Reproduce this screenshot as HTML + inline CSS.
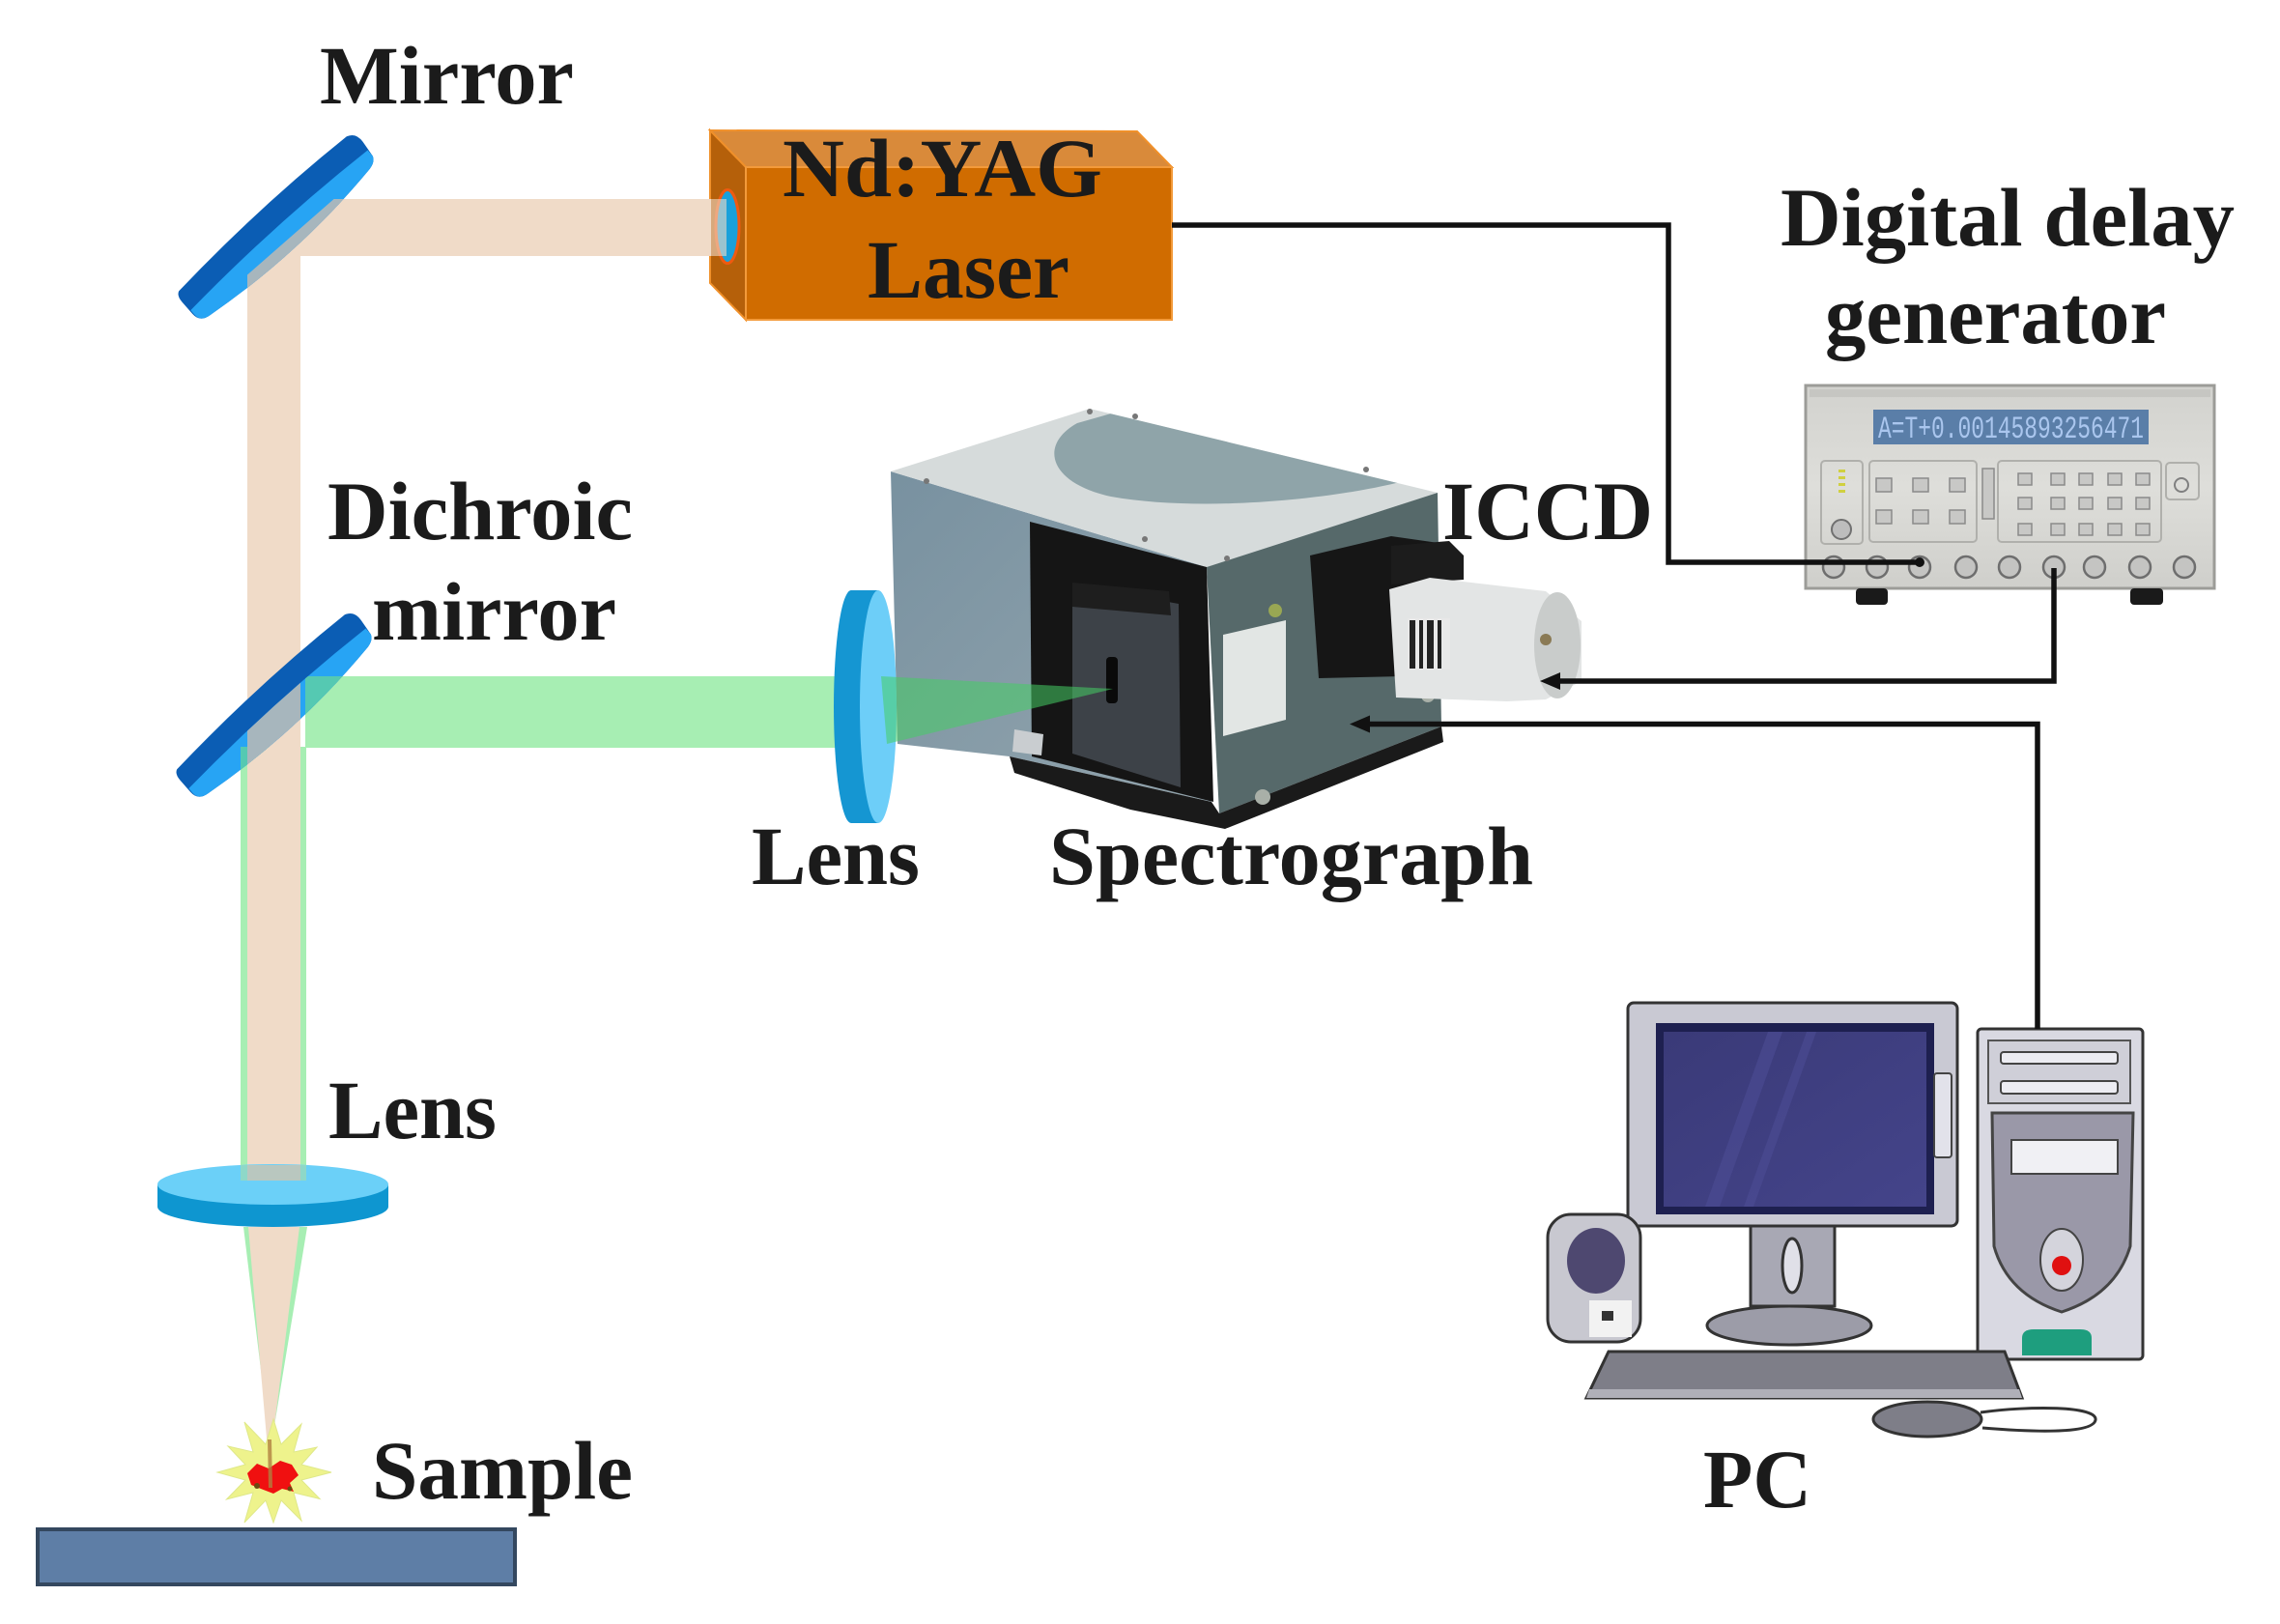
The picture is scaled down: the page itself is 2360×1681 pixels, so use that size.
<!DOCTYPE html>
<html><head><meta charset="utf-8"><style>
html,body{margin:0;padding:0;background:#fff;}
svg{display:block;}
.t{font-family:"Liberation Serif","Times New Roman",serif;font-weight:bold;font-size:86px;fill:#1b1b1b;}
</style></head><body>
<svg width="2360" height="1681" viewBox="0 0 2360 1681" xmlns="http://www.w3.org/2000/svg">
<defs>
  <clipPath id="face1"><path transform="translate(288,236.5) rotate(-41.2)" d="M -124,4 Q 0,-6 123,0 L 123,8 Q 121,14 112,16 Q 0,34 -112,21 Q -124,20 -124,10 Z"/></clipPath>
  <clipPath id="face2"><path transform="translate(286,731.5) rotate(-41.2)" d="M -124,4 Q 0,-6 123,0 L 123,8 Q 121,14 112,16 Q 0,34 -112,21 Q -124,20 -124,10 Z"/></clipPath>
  <clipPath id="topface"><polygon points="922,488 1128,423 1488,510 1249,587"/></clipPath>
  <linearGradient id="lface" x1="0" y1="0" x2="1" y2="1">
    <stop offset="0" stop-color="#7891a0"/><stop offset="1" stop-color="#93a5ae"/>
  </linearGradient>
  <linearGradient id="ddg" x1="0" y1="0" x2="0" y2="1">
    <stop offset="0" stop-color="#d2d2ce"/><stop offset="0.5" stop-color="#dededa"/><stop offset="1" stop-color="#cfcfcb"/>
  </linearGradient>
  <linearGradient id="scr" x1="0" y1="0" x2="1" y2="1">
    <stop offset="0" stop-color="#3a3a78"/><stop offset="1" stop-color="#44448a"/>
  </linearGradient>
</defs>
<rect width="2360" height="1681" fill="#fff"/>

<!-- ===== Laser box ===== -->
<polygon points="735,135 1177,136 1213,173 772,173" fill="#d98a3a" stroke="#f0902a" stroke-width="2"/>
<polygon points="735,135 772,173 772,331 735,293" fill="#b5600a" stroke="#f0902a" stroke-width="2"/>
<rect x="772" y="173" width="441" height="158" fill="#d06c00" stroke="#f39a3a" stroke-width="2"/>
<ellipse cx="753" cy="234.5" rx="12" ry="38" fill="#1aa0da" stroke="#f05a10" stroke-width="3"/>

<!-- ===== Green beams (under) ===== -->
<rect x="316" y="700" width="556" height="74" fill="#a7eeb3"/>
<rect x="249" y="773" width="68" height="449" fill="#a7eeb3"/>

<!-- ===== Peach beam ===== -->
<polygon points="345.6,206 736,206 736,265 311,265 311,1222 256,1222 256,284.5" fill="#f0dbc8"/>
<rect x="736" y="206" width="16" height="59" fill="#f0dbc8" opacity="0.6"/>

<!-- ===== Mirror 1 ===== -->
<g transform="translate(288,236.5) rotate(-41.2)">
  <path d="M -120,-19 Q 0,-30 116,-25 Q 126,-22 125,-10 L 123,8 Q 121,14 112,16 Q 0,34 -112,21 Q -125,20 -125,8 L -125,-8 Q -125,-17 -120,-19 Z" fill="#0b5db4"/>
  <path d="M -124,4 Q 0,-6 123,0 L 123,8 Q 121,14 112,16 Q 0,34 -112,21 Q -124,20 -124,10 Z" fill="#27a4f4"/>
</g>
<g clip-path="url(#face1)">
  <polygon points="345.6,206 736,206 736,265 311,265 311,1222 256,1222 256,284.5" fill="#a7b6bd"/>
</g>

<!-- ===== Mirror 2 (dichroic) ===== -->
<g transform="translate(286,731.5) rotate(-41.2)">
  <path d="M -120,-19 Q 0,-30 116,-25 Q 126,-22 125,-10 L 123,8 Q 121,14 112,16 Q 0,34 -112,21 Q -125,20 -125,8 L -125,-8 Q -125,-17 -120,-19 Z" fill="#0b5db4"/>
  <path d="M -124,4 Q 0,-6 123,0 L 123,8 Q 121,14 112,16 Q 0,34 -112,21 Q -124,20 -124,10 Z" fill="#27a4f4"/>
</g>
<g clip-path="url(#face2)">
  <rect x="316" y="700" width="556" height="74" fill="#55c9b2"/>
  <rect x="249" y="773" width="68" height="100" fill="#55c9b2"/>
  <rect x="256" y="600" width="55" height="300" fill="#a7b6bd"/>
</g>

<!-- ===== Bottom lens ===== -->
<ellipse cx="282.5" cy="1249" rx="119.5" ry="21" fill="#0e96d0"/>
<rect x="163" y="1226" width="239" height="23" fill="#0e96d0"/>
<ellipse cx="282.5" cy="1226" rx="119.5" ry="21" fill="#6bd0f8"/>
<rect x="249" y="1206" width="68" height="16" fill="#8ed8c8"/>
<rect x="256" y="1206" width="55" height="16" fill="#b9c7bf"/>

<!-- cone below lens -->
<polygon points="252,1270 318,1270 280,1500" fill="#a7eeb3"/>
<polygon points="257,1270 310,1270 281,1500 277,1500" fill="#f0dbc8"/>

<!-- ===== Sample ===== -->
<polygon points="343,1524 312,1532 331,1551.5 304,1545 312,1574 291,1553 283,1576 275,1553 253,1576 262,1545 234.5,1552 254,1532 225,1524 254,1516 236,1497 262,1503 253,1472 275,1495 283,1469 291,1495 312,1474 304,1503 328,1498 312,1516" fill="#eef38c" stroke="#dfe88a" stroke-width="1"/>
<polygon points="256,1525 266,1515 278,1520 290,1512 302,1516 309,1527 300,1535 304,1544 292,1541 283,1546 270,1541 260,1537" fill="#f01010"/>
<circle cx="266" cy="1538" r="3" fill="#6b4a10"/>
<circle cx="300" cy="1541" r="2.5" fill="#6b4a10"/>
<polygon points="277,1490 281,1490 282,1540 278,1540" fill="#b08040" opacity="0.8"/>
<rect x="39" y="1583" width="494" height="57" fill="#5e7ea6" stroke="#34485f" stroke-width="4"/>

<!-- ===== Spectrograph ===== -->
<polygon points="922,488 1249,587 1254,830 1045,783 929,770" fill="url(#lface)"/>
<polygon points="922,488 1128,423 1488,510 1249,587" fill="#d6dbdb"/>
<g clip-path="url(#topface)">
  <path d="M 1115,438 C 1075,460 1085,500 1150,514 C 1240,530 1370,518 1445,500 L 1465,498 L 1150,428 Z" fill="#8fa4a9"/>
</g>
<polygon points="1249,587 1488,510 1492,752 1262,842" fill="#56696a"/>
<polygon points="1045,783 1254,830 1262,842 1492,752 1494,768 1268,858 1170,838 1050,800" fill="#1a1a1a"/>
<polygon points="1066,540 1249,587 1256,830 1068,783" fill="#151515"/>
<polygon points="1110,605 1220,625 1222,815 1110,780" fill="#3d4248"/>
<polygon points="1110,603 1210,612 1212,637 1110,628" fill="#1e1e1e"/>
<rect x="1145" y="680" width="12" height="48" rx="4" fill="#0a0a0a"/>
<polygon points="1050,755 1080,760 1078,782 1048,778" fill="#c9cdd0"/>
<polygon points="1266,657 1331,642 1331,745 1266,762" fill="#e2e6e4"/>
<circle cx="1320" cy="632" r="7" fill="#b7c24a" opacity="0.7"/>
<circle cx="1307" cy="825" r="8" fill="#a9b0a8"/>
<circle cx="1478" cy="720" r="7" fill="#a9b0a8"/>
<circle cx="1128" cy="426" r="3" fill="#777"/>
<circle cx="1175" cy="431" r="3" fill="#777"/>
<circle cx="1414" cy="486" r="3" fill="#777"/>
<circle cx="959" cy="498" r="3" fill="#777"/>
<circle cx="1185" cy="558" r="3" fill="#777"/>
<circle cx="1270" cy="578" r="3" fill="#777"/>
<polygon points="1356,575 1440,555 1496,563 1496,690 1453,700 1365,702" fill="#161616"/>
<polygon points="1440,565 1500,560 1515,575 1515,600 1440,605" fill="#1c1c1c"/>
<polygon points="1438,610 1480,598 1600,612 1637,643 1637,705 1600,724 1560,726 1445,722" fill="#e3e5e5"/>
<ellipse cx="1612" cy="668" rx="24" ry="55" fill="#c9cccb"/>
<rect x="1457" y="640" width="44" height="53" fill="#e8e8e8"/>
<rect x="1459" y="642" width="6" height="50" fill="#222"/>
<rect x="1469" y="642" width="4" height="50" fill="#222"/>
<rect x="1477" y="642" width="7" height="50" fill="#222"/>
<rect x="1488" y="642" width="4" height="50" fill="#222"/>
<circle cx="1600" cy="662" r="6" fill="#8a7a55"/>

<!-- ===== Middle lens ===== -->
<ellipse cx="881" cy="731.5" rx="18" ry="120.5" fill="#1596d2"/>
<rect x="881" y="611" width="28" height="241" fill="#1596d2"/>
<ellipse cx="909" cy="731.5" rx="19" ry="120.5" fill="#6dcef8"/>
<polygon points="912,700 918,770 1152,713" fill="#46cd64" opacity="0.55"/>

<!-- ===== Digital delay generator ===== -->
<rect x="1869" y="399" width="423" height="210" fill="url(#ddg)" stroke="#9c9c98" stroke-width="3"/>
<rect x="1873" y="403" width="415" height="8" fill="#c6c6c2"/>
<rect x="1939" y="424" width="285" height="36" fill="#5a7ea8"/>
<text x="1944" y="453" textLength="275" lengthAdjust="spacingAndGlyphs" font-family="Liberation Mono, monospace" font-size="32" fill="#aac6ee">A=T+0.00145893256471</text>
<rect x="1885" y="477" width="43" height="86" rx="4" fill="none" stroke="#b0b0ac" stroke-width="2"/>
<rect x="1935" y="477" width="111" height="84" rx="4" fill="none" stroke="#b0b0ac" stroke-width="2"/>
<rect x="2068" y="477" width="169" height="84" rx="4" fill="none" stroke="#b0b0ac" stroke-width="2"/>
<rect x="2242" y="479" width="34" height="38" rx="4" fill="none" stroke="#b0b0ac" stroke-width="2"/>
<g fill="#d0d040"><rect x="1903" y="486" width="7" height="3"/><rect x="1903" y="493" width="7" height="3"/><rect x="1903" y="500" width="7" height="3"/><rect x="1903" y="507" width="7" height="3"/></g>
<circle cx="1906" cy="548" r="10" fill="#bdbdbd" stroke="#707070" stroke-width="2"/>
<g fill="#c8c8c6" stroke="#8a8a8a" stroke-width="1.5">
  <rect x="1942" y="495" width="16" height="14"/><rect x="1980" y="495" width="16" height="14"/><rect x="2018" y="495" width="16" height="14"/>
  <rect x="1942" y="528" width="16" height="14"/><rect x="1980" y="528" width="16" height="14"/><rect x="2018" y="528" width="16" height="14"/>
  <rect x="2089" y="490" width="14" height="12"/><rect x="2123" y="490" width="14" height="12"/><rect x="2152" y="490" width="14" height="12"/><rect x="2182" y="490" width="14" height="12"/><rect x="2211" y="490" width="14" height="12"/>
  <rect x="2089" y="515" width="14" height="12"/><rect x="2123" y="515" width="14" height="12"/><rect x="2152" y="515" width="14" height="12"/><rect x="2182" y="515" width="14" height="12"/><rect x="2211" y="515" width="14" height="12"/>
  <rect x="2089" y="542" width="14" height="12"/><rect x="2123" y="542" width="14" height="12"/><rect x="2152" y="542" width="14" height="12"/><rect x="2182" y="542" width="14" height="12"/><rect x="2211" y="542" width="14" height="12"/>
  <rect x="2052" y="485" width="12" height="52"/>
</g>
<circle cx="2258" cy="502" r="7" fill="none" stroke="#808080" stroke-width="2"/>
<g fill="#c4c4c2" stroke="#6e6e6e" stroke-width="2.5">
  <circle cx="1898" cy="587" r="11"/><circle cx="1943" cy="587" r="11"/><circle cx="1987" cy="587" r="11"/>
  <circle cx="2035" cy="587" r="11"/><circle cx="2080" cy="587" r="11"/><circle cx="2126" cy="587" r="11"/>
  <circle cx="2168" cy="587" r="11"/><circle cx="2215" cy="587" r="11"/><circle cx="2261" cy="587" r="11"/>
</g>
<rect x="1921" y="609" width="33" height="17" rx="4" fill="#1a1a1a"/>
<rect x="2205" y="609" width="34" height="17" rx="4" fill="#1a1a1a"/>

<!-- ===== PC ===== -->
<rect x="1685" y="1038" width="341" height="231" rx="6" fill="#c9c9d3" stroke="#333" stroke-width="3"/>
<rect x="1714" y="1059" width="288" height="198" fill="#1e2050"/>
<rect x="1722" y="1068" width="272" height="181" fill="url(#scr)"/>
<polygon points="1830,1068 1845,1068 1780,1249 1765,1249" fill="#4d4d94" opacity="0.6"/>
<polygon points="1870,1068 1880,1068 1815,1249 1805,1249" fill="#4d4d94" opacity="0.6"/>
<rect x="2002" y="1111" width="18" height="87" rx="3" fill="#e2e2ea" stroke="#444" stroke-width="2"/>
<rect x="1812" y="1269" width="87" height="83" fill="#a8a8b4" stroke="#333" stroke-width="3"/>
<ellipse cx="1855" cy="1310" rx="10" ry="28" fill="#e0e0e8" stroke="#333" stroke-width="3"/>
<ellipse cx="1852" cy="1372" rx="85" ry="20" fill="#9c9ca8" stroke="#333" stroke-width="3"/>
<rect x="1602" y="1257" width="96" height="132" rx="24" fill="#c8c8d0" stroke="#333" stroke-width="3"/>
<ellipse cx="1652" cy="1305" rx="30" ry="34" fill="#4e4870"/>
<rect x="1645" y="1346" width="44" height="38" fill="#f2f2f2"/>
<rect x="1658" y="1357" width="12" height="10" fill="#333"/>
<rect x="2047" y="1065" width="171" height="342" rx="4" fill="#d9d9e2" stroke="#333" stroke-width="3"/>
<rect x="2058" y="1077" width="147" height="65" fill="#cfcfd8" stroke="#555" stroke-width="2"/>
<rect x="2071" y="1089" width="121" height="12" rx="3" fill="#ececf2" stroke="#444" stroke-width="2"/>
<rect x="2071" y="1119" width="121" height="13" rx="3" fill="#ececf2" stroke="#444" stroke-width="2"/>
<path d="M 2062,1152 L 2208,1152 L 2205,1290 Q 2190,1340 2134,1358 Q 2078,1340 2064,1290 Z" fill="#9a98a8" stroke="#444" stroke-width="3"/>
<rect x="2082" y="1180" width="110" height="35" fill="#f0f0f4" stroke="#444" stroke-width="2"/>
<ellipse cx="2134" cy="1304" rx="22" ry="32" fill="#d4d4dc" stroke="#444" stroke-width="2"/>
<circle cx="2134" cy="1310" r="10" fill="#e01010"/>
<path d="M 2093,1403 L 2093,1385 Q 2093,1376 2105,1376 L 2153,1376 Q 2165,1376 2165,1385 L 2165,1403 Z" fill="#1e9e7e"/>
<polygon points="1665,1399 2075,1399 2093,1447 1642,1447" fill="#7e7e88" stroke="#333" stroke-width="3"/>
<polygon points="1645,1438 2090,1438 2093,1447 1642,1447" fill="#b0b0b8"/>
<ellipse cx="1995" cy="1469" rx="56" ry="18" fill="#7e7e88" stroke="#333" stroke-width="3"/>
<path d="M 2050,1462 C 2100,1455 2172,1455 2169,1470 C 2166,1485 2100,1482 2052,1478" fill="none" stroke="#333" stroke-width="3"/>

<!-- ===== Connector lines ===== -->
<g fill="none" stroke="#111" stroke-width="5.5" stroke-linejoin="miter">
  <polyline points="1213,233 1727,233 1727,582 1987,582"/>
  <polyline points="2126,588 2126,705 1610,705"/>
  <polyline points="2109,1065 2109,749.5 1412,749.5"/>
</g>
<circle cx="1987" cy="582" r="5" fill="#111"/>
<polygon points="1594,705 1615,696 1615,714" fill="#111"/>
<polygon points="1397,749.5 1418,740.5 1418,758.5" fill="#111"/>

<!-- ===== Labels ===== -->
<text class="t" x="331" y="107" textLength="263" lengthAdjust="spacingAndGlyphs">Mirror</text>
<text class="t" x="810" y="203" textLength="331" lengthAdjust="spacingAndGlyphs">Nd:YAG</text>
<text class="t" x="898" y="308" textLength="209" lengthAdjust="spacingAndGlyphs">Laser</text>
<text class="t" x="339" y="558" textLength="316" lengthAdjust="spacingAndGlyphs">Dichroic</text>
<text class="t" x="385" y="662" textLength="253" lengthAdjust="spacingAndGlyphs">mirror</text>
<text class="t" x="1493" y="558" textLength="218" lengthAdjust="spacingAndGlyphs">ICCD</text>
<text class="t" x="778" y="915" textLength="174" lengthAdjust="spacingAndGlyphs">Lens</text>
<text class="t" x="1086" y="915" textLength="501" lengthAdjust="spacingAndGlyphs">Spectrograph</text>
<text class="t" x="1843" y="254" textLength="470" lengthAdjust="spacingAndGlyphs">Digital delay</text>
<text class="t" x="1889" y="355" textLength="353" lengthAdjust="spacingAndGlyphs">generator</text>
<text class="t" x="340" y="1178" textLength="174" lengthAdjust="spacingAndGlyphs">Lens</text>
<text class="t" x="385" y="1551" textLength="270" lengthAdjust="spacingAndGlyphs">Sample</text>
<text class="t" x="1763" y="1560" textLength="112" lengthAdjust="spacingAndGlyphs">PC</text>
</svg>
</body></html>
